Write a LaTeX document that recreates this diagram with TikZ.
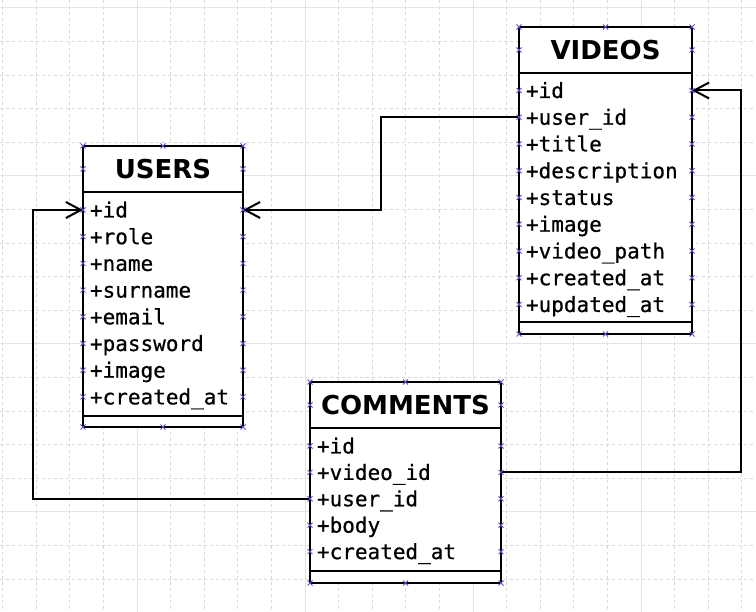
\documentclass[tikz,border=0pt]{standalone}
\usepackage{fontspec}
\newfontfamily\hdrfont{DejaVu Sans}
\newfontfamily\monofont[FakeBold=0.6]{DejaVu Sans Mono}
\usetikzlibrary{arrows.meta}
\definecolor{gridminor}{HTML}{D8D8D8}
\definecolor{gridmajor}{HTML}{DCE4EC}
\definecolor{markc}{HTML}{5B4FD0}
\tikzset{
  hdr/.style={font=\hdrfont\bfseries\fontsize{26}{30}\selectfont, inner sep=0pt, outer sep=0pt, anchor=north, minimum height=46pt},
  row/.style={font=\monofont\fontsize{21}{24}\selectfont, inner xsep=7pt, inner ysep=0pt, outer sep=0pt,
     anchor=west, minimum height=26pt, align=left, text height=16pt, text depth=1pt},
  tbl/.style={draw=black, line width=2.4pt, inner sep=0pt, outer sep=0pt},
  sepline/.style={black, line width=2pt},
  conn/.style={black, line width=2pt, -{Straight Barb[length=15pt,width=16pt,line width=2pt]}},
  cmark/.style={markc, line width=0.8pt}
}
\newcommand{\xmk}[1]{\draw[cmark] (#1) +(-2.5,-2.5) -- +(2.5,2.5) +(-2.5,2.5) -- +(2.5,-2.5);}
\begin{document}
\begin{tikzpicture}[x=1pt,y=-1pt]
\useasboundingbox (0,0) rectangle (756,612);
\fill[white] (0,0) rectangle (756,612);
% grid
\foreach \k in {-4,...,18}{
  \pgfmathsetmacro{\gx}{137+33.6*\k}
  \pgfmathtruncatemacro{\md}{mod(\k+20,5)}
  \ifnum\md=0
    \draw[gridmajor, line width=1pt] (\gx,0) -- (\gx,612);
  \else
    \draw[gridminor, line width=0.8pt, dash pattern=on 3pt off 3pt] (\gx,0) -- (\gx,612);
  \fi
}
\foreach \k in {0,...,17}{
  \pgfmathsetmacro{\gy}{8+33.6*\k}
  \pgfmathtruncatemacro{\md}{mod(\k,5)}
  \ifnum\md=0
    \draw[gridmajor, line width=1pt] (0,\gy) -- (756,\gy);
  \else
    \draw[gridminor, line width=0.8pt, dash pattern=on 3pt off 3pt] (0,\gy) -- (756,\gy);
  \fi
}

% ---------- USERS ----------
\node[fill=white, tbl, minimum width=160pt, minimum height=281pt] (users) at (163,286.5) {};
\node[hdr, minimum width=160pt] (uh) at (163,146) {USERS};
\draw[sepline] (uh.south west) -- (uh.south east);
\draw[sepline] (83,416) -- (243,416);
\foreach \t [count=\i] in {+id,+role,+name,+surname,+email,+password,+image,+created\_at}{
  \node[row, text width=146pt] (u\i) at (83,{210+26.7*(\i-1)}) {\t};
}

% ---------- VIDEOS ----------
\node[fill=white, tbl, minimum width=173pt, minimum height=307pt] (videos) at (605.5,180.5) {};
\node[hdr, minimum width=173pt] (vh) at (605.5,27) {VIDEOS};
\draw[sepline] (vh.south west) -- (vh.south east);
\draw[sepline] (519,322) -- (692,322);
\foreach \t [count=\i] in {+id,+user\_id,+title,+description,+status,+image,+video\_path,+created\_at,+updated\_at}{
  \node[row, text width=159pt] (v\i) at (519,{90.5+26.75*(\i-1)}) {\t};
}

% ---------- COMMENTS ----------
\node[fill=white, tbl, minimum width=191pt, minimum height=201pt] (comments) at (405.5,482.5) {};
\node[hdr, minimum width=191pt] (ch) at (405.5,382) {COMMENTS};
\draw[sepline] (ch.south west) -- (ch.south east);
\draw[sepline] (310,571) -- (501,571);
\foreach \t [count=\i] in {+id,+video\_id,+user\_id,+body,+created\_at}{
  \node[row, text width=177pt] (c\i) at (310,{446+26.4*(\i-1)}) {\t};
}

% redraw frames on top
\node[tbl, minimum width=160pt, minimum height=281pt] at (users) {};
\node[tbl, minimum width=173pt, minimum height=307pt] at (videos) {};
\node[tbl, minimum width=191pt, minimum height=201pt] at (comments) {};

% ---------- connectors ----------
\draw[conn] (v2.west) -- ++(-138,0) |- (u1.east);
\draw[conn] (c3.west) -- ++(-277,0) |- (u1.west);
\draw[conn] (c2.east) -- ++(240,0) |- (v1.east);

% ---------- connection marks ----------
\foreach \n in {users,videos,comments}{
  \xmk{\n.north west} \xmk{\n.north} \xmk{\n.north east}
  \xmk{\n.south west} \xmk{\n.south} \xmk{\n.south east}
}
\foreach \n in {uh,vh,ch}{ \xmk{\n.west} \xmk{\n.east} }
\foreach \i in {1,...,8}{ \xmk{u\i.west} \xmk{u\i.east} }
\foreach \i in {1,...,9}{ \xmk{v\i.west} \xmk{v\i.east} }
\foreach \i in {1,...,5}{ \xmk{c\i.west} \xmk{c\i.east} }
\end{tikzpicture}
\end{document}
